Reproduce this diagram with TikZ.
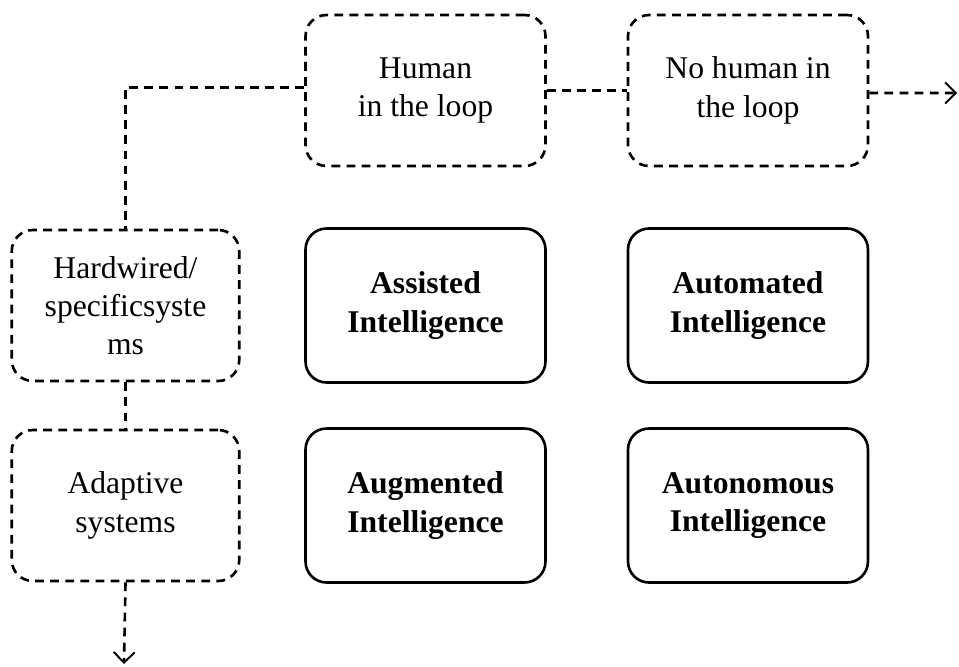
\documentclass[tikz,border=0pt]{standalone}
\usepackage{fontspec}
\setmainfont{Liberation Serif}
\usetikzlibrary{arrows.meta}

\tikzset{
  softbox/.style={draw, dash pattern=on 5pt off 3.6pt, line width=1.5pt, rounded corners=0.42cm,
    align=center, minimum width=4.8cm, minimum height=3.02cm, inner sep=0pt,
    font=\fontsize{18}{21.8}\selectfont},
  hardbox/.style={draw, line width=1.5pt, rounded corners=0.42cm,
    align=center, minimum width=4.8cm, minimum height=3.08cm, inner sep=0pt,
    font=\fontsize{18}{21.8}\selectfont\bfseries},
  link/.style={dash pattern=on 5pt off 3.6pt, line width=1.5pt},
  vtip/.style={-{Straight Barb[length=6pt, width=12pt, line width=1.1pt]}},
}

\begin{document}
\begin{tikzpicture}[x=0.02cm, y=-0.02cm]
    \useasboundingbox (0, 0) rectangle (959, 666);
    \node[softbox] (human) at (425.5, 90.5) {Human\\in the loop};
    \node[softbox] (nohuman) at (748, 90.5) {No human in\\the loop};
    \node[softbox, minimum width=4.55cm] (hardwired) at (125.5, 305.5) {Hardwired/\\specificsyste\\ms};
    \node[softbox, minimum width=4.55cm] (adaptive) at (125.5, 505.5) {Adaptive\\systems};
    \node[hardbox] (assisted) at (425.5, 305.5) {Assisted\\Intelligence};
    \node[hardbox] (automated) at (748, 305.5) {Automated\\Intelligence};
    \node[hardbox] (augmented) at (425.5, 505.5) {Augmented\\Intelligence};
    \node[hardbox] (autonomous) at (748, 505.5) {Autonomous\\Intelligence};
    \coordinate (rightend) at (957, 93);
    \coordinate (downend) at (124, 664);
    \draw[link] ([yshift=0.06cm]human.west) -| (hardwired.north);
    \draw[link] (human.east) -- (nohuman.west);
    \draw[link, vtip] ([yshift=-0.05cm]nohuman.east) -- (rightend);
    \draw[link] (hardwired.south) -- (adaptive.north);
    \draw[link, vtip] (adaptive.south) -- (downend);
\end{tikzpicture}
\end{document}
